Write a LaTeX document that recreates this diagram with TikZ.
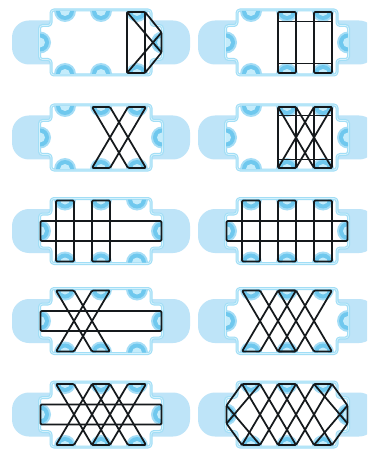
\documentclass[tikz,border=0pt]{standalone}
\definecolor{bandc}{HTML}{BEE4F8}
\definecolor{edgec}{HTML}{A2DEF6}
\definecolor{edgeinner}{HTML}{D6F2FC}
\definecolor{padhalo}{HTML}{A5DDF6}
\definecolor{padring}{HTML}{6FC8EE}
\definecolor{padcore}{HTML}{C4ECFB}
\definecolor{lacec}{HTML}{15191C}
\tikzset{
  x=1pt,y=1pt,
  bandshape/.style={fill=bandc,draw=none,rounded corners=17pt},
  bodyshape/.style={fill=white,draw=edgec,line width=3pt,rounded corners=3pt,line join=round},
  bodyline/.style={draw=edgeinner,line width=0.7pt,rounded corners=3pt,line join=round},
  lace/.style={draw=lacec,line width=1.75pt,rounded corners=1.2pt,line join=round},
}
\newcommand{\archpart}[2]{%
  \begin{scope}[shift={(#1)},rotate=#2]
    \fill[padhalo] (-11,0) arc[start angle=180,end angle=360,radius=11] -- cycle;
    \fill[padring] (-9,0) arc[start angle=180,end angle=360,radius=9] -- cycle;
    \fill[padcore] (-5,0) arc[start angle=180,end angle=360,radius=5] -- cycle;
  \end{scope}
}
\newcommand{\panelbase}{%
  \path[bandshape] (-89,22) rectangle (89,-22);
  \def\bodypath{(-50,32.5) -- (50,32.5) -- (50,17) -- (61.5,17) -- (61.5,-17) -- (50,-17) -- (50,-32.5) -- (-50,-32.5) -- (-50,-17) -- (-61.5,-17) -- (-61.5,17) -- (-50,17) -- cycle}
  \draw[bodyshape] \bodypath;
  \draw[bodyline] \bodypath;
  \foreach \px in {-36,0,36}{%
    \archpart{\px,31.5}{0}
    \archpart{\px,-31.5}{180}
  }
  \archpart{-61,0}{90}
  \archpart{61,0}{-90}
}
\newcommand{\lacerect}[1]{\draw[lace] ({#1-9},30.5) rectangle ({#1+9},-30.5);}
\newcommand{\lacehoriz}{\draw[lace] (-60.5,10) rectangle (60.5,-10);}
\newcommand{\lacecross}[1]{%
  \draw[lace] ({#1-9},30.5) -- ({#1+9},30.5) -- ({#1+45},-30.5) -- ({#1+27},-30.5) -- cycle;
  \draw[lace] ({#1-9},-30.5) -- ({#1+9},-30.5) -- ({#1+45},30.5) -- ({#1+27},30.5) -- cycle;
}
\begin{document}
\begin{tikzpicture}
\clip (0,0) rectangle (367,-449);
\fill[white] (0,0) rectangle (367,-449);
% row 1 left
\begin{scope}[shift={(101,-42.5)}]
  \panelbase
  \draw[lace] (26,30.5) -- (44,30.5) -- (60.5,10) -- (60.5,-10) -- (44,-30.5) -- (26,-30.5) -- cycle;
  \draw[lace] (44,30.5) -- (44,-30.5);
  \draw[lace] (26,30.5) -- (60.5,-10);
  \draw[lace] (26,-30.5) -- (60.5,10);
\end{scope}
% row 1 right
\begin{scope}[shift={(287,-42.5)}]
  \panelbase
  \lacerect{0}\lacerect{36}
  \draw[lace] (-9,21) -- (45,21);
  \draw[lace] (-9,-21) -- (45,-21);
\end{scope}
% row 2 left
\begin{scope}[shift={(101,-137.5)}]
  \panelbase
  \lacecross{0}
\end{scope}
% row 2 right
\begin{scope}[shift={(287,-137.5)}]
  \panelbase
  \lacerect{0}\lacerect{36}
  \draw[lace] (-9,22) -- (45,22);
  \draw[lace] (-9,-22) -- (45,-22);
  \lacecross{0}
\end{scope}
% row 3 left
\begin{scope}[shift={(101,-231)}]
  \panelbase
  \lacerect{-36}\lacerect{0}\lacehoriz
\end{scope}
% row 3 right
\begin{scope}[shift={(287,-231)}]
  \panelbase
  \lacerect{-36}\lacerect{0}\lacerect{36}\lacehoriz
\end{scope}
% row 4 left
\begin{scope}[shift={(101,-321)}]
  \panelbase
  \lacecross{-36}\lacehoriz
\end{scope}
% row 4 right
\begin{scope}[shift={(287,-321)}]
  \panelbase
  \lacecross{-36}\lacecross{0}
\end{scope}
% row 5 left
\begin{scope}[shift={(101,-414.5)}]
  \panelbase
  \lacecross{-36}\lacecross{0}\lacehoriz
\end{scope}
% row 5 right
\begin{scope}[shift={(287,-414.5)}]
  \panelbase
  \lacecross{-36}\lacecross{0}
  \draw[lace] (-45,30.5) -- (-60.5,9) -- (-60.5,-9) -- (-45,-30.5);
  \draw[lace] (45,30.5) -- (60.5,9) -- (60.5,-9) -- (45,-30.5);
  \draw[lace] (-60.5,9) -- (-27,-30.5);
  \draw[lace] (-60.5,-9) -- (-27,30.5);
  \draw[lace] (60.5,9) -- (27,-30.5);
  \draw[lace] (60.5,-9) -- (27,30.5);
\end{scope}
\end{tikzpicture}
\end{document}
